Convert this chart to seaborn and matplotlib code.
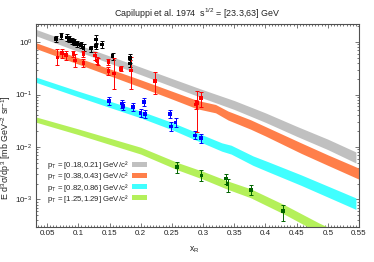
import numpy as np
import pandas as pd
import matplotlib
matplotlib.use('Agg')
from matplotlib import pyplot as plt
from matplotlib.ticker import MultipleLocator, LogLocator, FormatStrFormatter, NullFormatter
from matplotlib.patches import Patch
import seaborn as sns

# model bands (x, lower edge, upper edge)
gray_x = [0.03, 0.1, 0.2, 0.25, 0.3, 0.35, 0.4, 0.45, 0.5, 0.545]
gray_lo = [1.35, 0.659, 0.239, 0.143, 0.0851, 0.0519, 0.0295, 0.0160, 0.00891, 0.00495]
gray_hi = [1.78, 0.889, 0.333, 0.202, 0.123, 0.0767, 0.0447, 0.0248, 0.0141, 0.00804]

orange_x = [0.03, 0.1, 0.2, 0.25, 0.29, 0.32, 0.34, 0.376, 0.4, 0.457, 0.5, 0.55]
orange_lo = [0.767, 0.380, 0.138, 0.0822, 0.0537, 0.0448, 0.0327, 0.0219, 0.0162, 0.00759, 0.00447, 0.00243]
orange_hi = [0.989, 0.501, 0.191, 0.116, 0.0776, 0.0646, 0.0484, 0.0331, 0.0245, 0.0120, 0.00708, 0.00394]

cyan_x = [0.03, 0.1, 0.2, 0.25, 0.29, 0.33, 0.345, 0.38, 0.405, 0.457, 0.545]
cyan_lo = [0.174, 0.0902, 0.0359, 0.0214, 0.0133, 0.00832, 0.00733, 0.00447, 0.00335, 0.00186, 0.000646]
cyan_hi = [0.219, 0.116, 0.0484, 0.0295, 0.0188, 0.0120, 0.0108, 0.00676, 0.00519, 0.00295, 0.00107]

lime_x = [0.03, 0.1, 0.2, 0.26, 0.3, 0.34, 0.376, 0.43, 0.486, 0.545]
lime_lo = [0.0302, 0.0172, 0.00733, 0.00363, 0.00243, 0.00155, 0.00108, 0.000525, 0.000230, 0.000105]
lime_hi = [0.0380, 0.0221, 0.00989, 0.00501, 0.00343, 0.00224, 0.00160, 0.000794, 0.000355, 0.000168]

band_labels = ['p$_{T}$ = [0.18,0.21] GeV/c²',
               'p$_{T}$ = [0.38,0.43] GeV/c²',
               'p$_{T}$ = [0.82,0.86] GeV/c²',
               'p$_{T}$ = [1.25,1.29] GeV/c²']

# data points (x, y, bar low, bar high)
black_x = [0.0644, 0.0729, 0.0813, 0.0853, 0.0893, 0.0933, 0.098, 0.1045, 0.1085, 0.120, 0.1285, 0.1285, 0.138, 0.155, 0.183, 0.183]
black_y = [1.16, 1.30, 1.23, 1.16, 1.045, 1.00, 0.93, 0.877, 0.78, 0.75, 1.12, 0.85, 0.90, 0.54, 0.49, 0.39]
black_lo = [1.0, 1.13, 1.07, 1.01, 0.91, 0.87, 0.81, 0.76, 0.67, 0.65, 0.92, 0.74, 0.78, 0.46, 0.40, 0.34]
black_hi = [1.33, 1.50, 1.41, 1.33, 1.20, 1.15, 1.07, 1.01, 0.90, 0.86, 1.36, 0.98, 1.04, 0.63, 0.60, 0.45]

red_x = [0.0665, 0.0736, 0.0804, 0.0921, 0.0949, 0.1082, 0.1082, 0.127, 0.1293, 0.131, 0.1482, 0.1482, 0.157, 0.1686, 0.1846, 0.223, 0.288, 0.290, 0.297]
red_y = [0.505, 0.628, 0.575, 0.60, 0.448, 0.60, 0.405, 0.558, 0.448, 0.43, 0.416, 0.28, 0.25, 0.311, 0.289, 0.181, 0.065, 0.069, 0.086]
red_lo = [0.36, 0.505, 0.45, 0.53, 0.334, 0.52, 0.334, 0.45, 0.38, 0.37, 0.36, 0.24, 0.13, 0.28, 0.13, 0.104, 0.052, 0.0193, 0.0576]
red_hi = [0.75, 0.75, 0.69, 0.67, 0.60, 0.69, 0.48, 0.66, 0.52, 0.50, 0.48, 0.33, 0.49, 0.35, 0.52, 0.27, 0.080, 0.116, 0.111]

blue_x = [0.1494, 0.1694, 0.1718, 0.1878, 0.1998, 0.2058, 0.207, 0.2466, 0.2484, 0.2559, 0.2872, 0.2968]
blue_y = [0.0752, 0.067, 0.061, 0.0578, 0.0445, 0.072, 0.0423, 0.0423, 0.0245, 0.0293, 0.0166, 0.0148]
blue_lo = [0.063, 0.056, 0.051, 0.048, 0.037, 0.061, 0.035, 0.036, 0.020, 0.024, 0.014, 0.012]
blue_hi = [0.089, 0.080, 0.073, 0.069, 0.053, 0.085, 0.051, 0.050, 0.030, 0.035, 0.020, 0.018]

green_x = [0.2578, 0.2973, 0.3369, 0.3393, 0.3764, 0.4277]
green_y = [0.00416, 0.00285, 0.0025, 0.00195, 0.0015, 0.000596]
green_lo = [0.0032, 0.00228, 0.0020, 0.00137, 0.0012, 0.00039]
green_hi = [0.00518, 0.0036, 0.0030, 0.0025, 0.00187, 0.00077]

sns.set_style('ticks')
plt.rcParams['font.family'] = ['Liberation Sans', 'DejaVu Sans']
plt.rcParams['mathtext.default'] = 'regular'

fig = plt.figure(figsize=(3.74, 2.62), dpi=100)
ax = fig.add_axes([0.096, 0.134, 0.864, 0.774])

band_cols = ['#c0c0c0', '#ff7f4a', '#40ffff', '#b4f05a']
bands = [(gray_x, gray_lo, gray_hi), (orange_x, orange_lo, orange_hi),
         (cyan_x, cyan_lo, cyan_hi), (lime_x, lime_lo, lime_hi)]
for (bx, lo, hi), c in zip(bands, band_cols):
    ax.fill_between(bx, lo, hi, color=c, lw=0, zorder=1)

pts = pd.concat([
    pd.DataFrame({'x': black_x, 'y': black_y, 'lo': black_lo, 'hi': black_hi, 'set': 'black'}),
    pd.DataFrame({'x': red_x, 'y': red_y, 'lo': red_lo, 'hi': red_hi, 'set': 'red'}),
    pd.DataFrame({'x': blue_x, 'y': blue_y, 'lo': blue_lo, 'hi': blue_hi, 'set': 'blue'}),
    pd.DataFrame({'x': green_x, 'y': green_y, 'lo': green_lo, 'hi': green_hi, 'set': 'green'}),
])
pal = {'black': 'black', 'red': '#ff0000', 'blue': '#0000ff', 'green': '#006400'}
for s, g in pts.groupby('set'):
    ax.errorbar(g['x'], g['y'], yerr=[g['y'] - g['lo'], g['hi'] - g['y']],
                fmt='none', ecolor=pal[s], elinewidth=0.7, capsize=1.3, capthick=0.7, zorder=3)
sns.scatterplot(data=pts, x='x', y='y', hue='set', palette=pal, marker='s', s=7,
                linewidth=0, legend=False, ax=ax, zorder=4)

ax.set_yscale('log')
ax.set_xlim(0.032, 0.55)
ax.set_ylim(3e-4, 2.2)
ax.xaxis.set_major_locator(MultipleLocator(0.05))
ax.xaxis.set_minor_locator(MultipleLocator(0.005))
ax.xaxis.set_major_formatter(FormatStrFormatter('%g'))
ax.yaxis.set_major_locator(LogLocator(base=10))
ax.yaxis.set_minor_locator(LogLocator(base=10, subs=np.arange(2, 10)))
ax.yaxis.set_minor_formatter(NullFormatter())
ax.tick_params(which='both', direction='in', top=True, right=True, colors='#404040',
               labelcolor='#222222', labelsize=5.8, width=0.5)
ax.tick_params(which='major', length=3, pad=2.5)
ax.tick_params(which='minor', length=1.6)
for sp in ax.spines.values():
    sp.set_color('#505050')
    sp.set_linewidth(0.8)

ax.set_xlabel('x$_{R}$', fontsize=6.2, color='#222222')
ax.xaxis.set_label_coords(0.49, -0.085)
ax.set_ylabel('E d$^{3}$σ/dp$^{3}$ [mb GeV$^{-2}$ sr$^{-1}$]', fontsize=6.4, color='#222222')
ax.yaxis.set_label_coords(-0.07, 0.39)
ax.set_title('Capiluppi et al. 1974  s$^{1/2}$ = [23.3,63] GeV', fontsize=6.4, color='#222222', pad=5)

handles = [Patch(facecolor=c, edgecolor='none') for c in band_cols]
ax.legend(handles, band_labels, loc='lower left', bbox_to_anchor=(0.035, 0.11),
          frameon=False, fontsize=5.6, markerfirst=False, handlelength=1.9,
          handleheight=0.65, labelspacing=-0.12, handletextpad=0.4, borderpad=0,
          borderaxespad=0)

fig.savefig('out.png', dpi=100)
